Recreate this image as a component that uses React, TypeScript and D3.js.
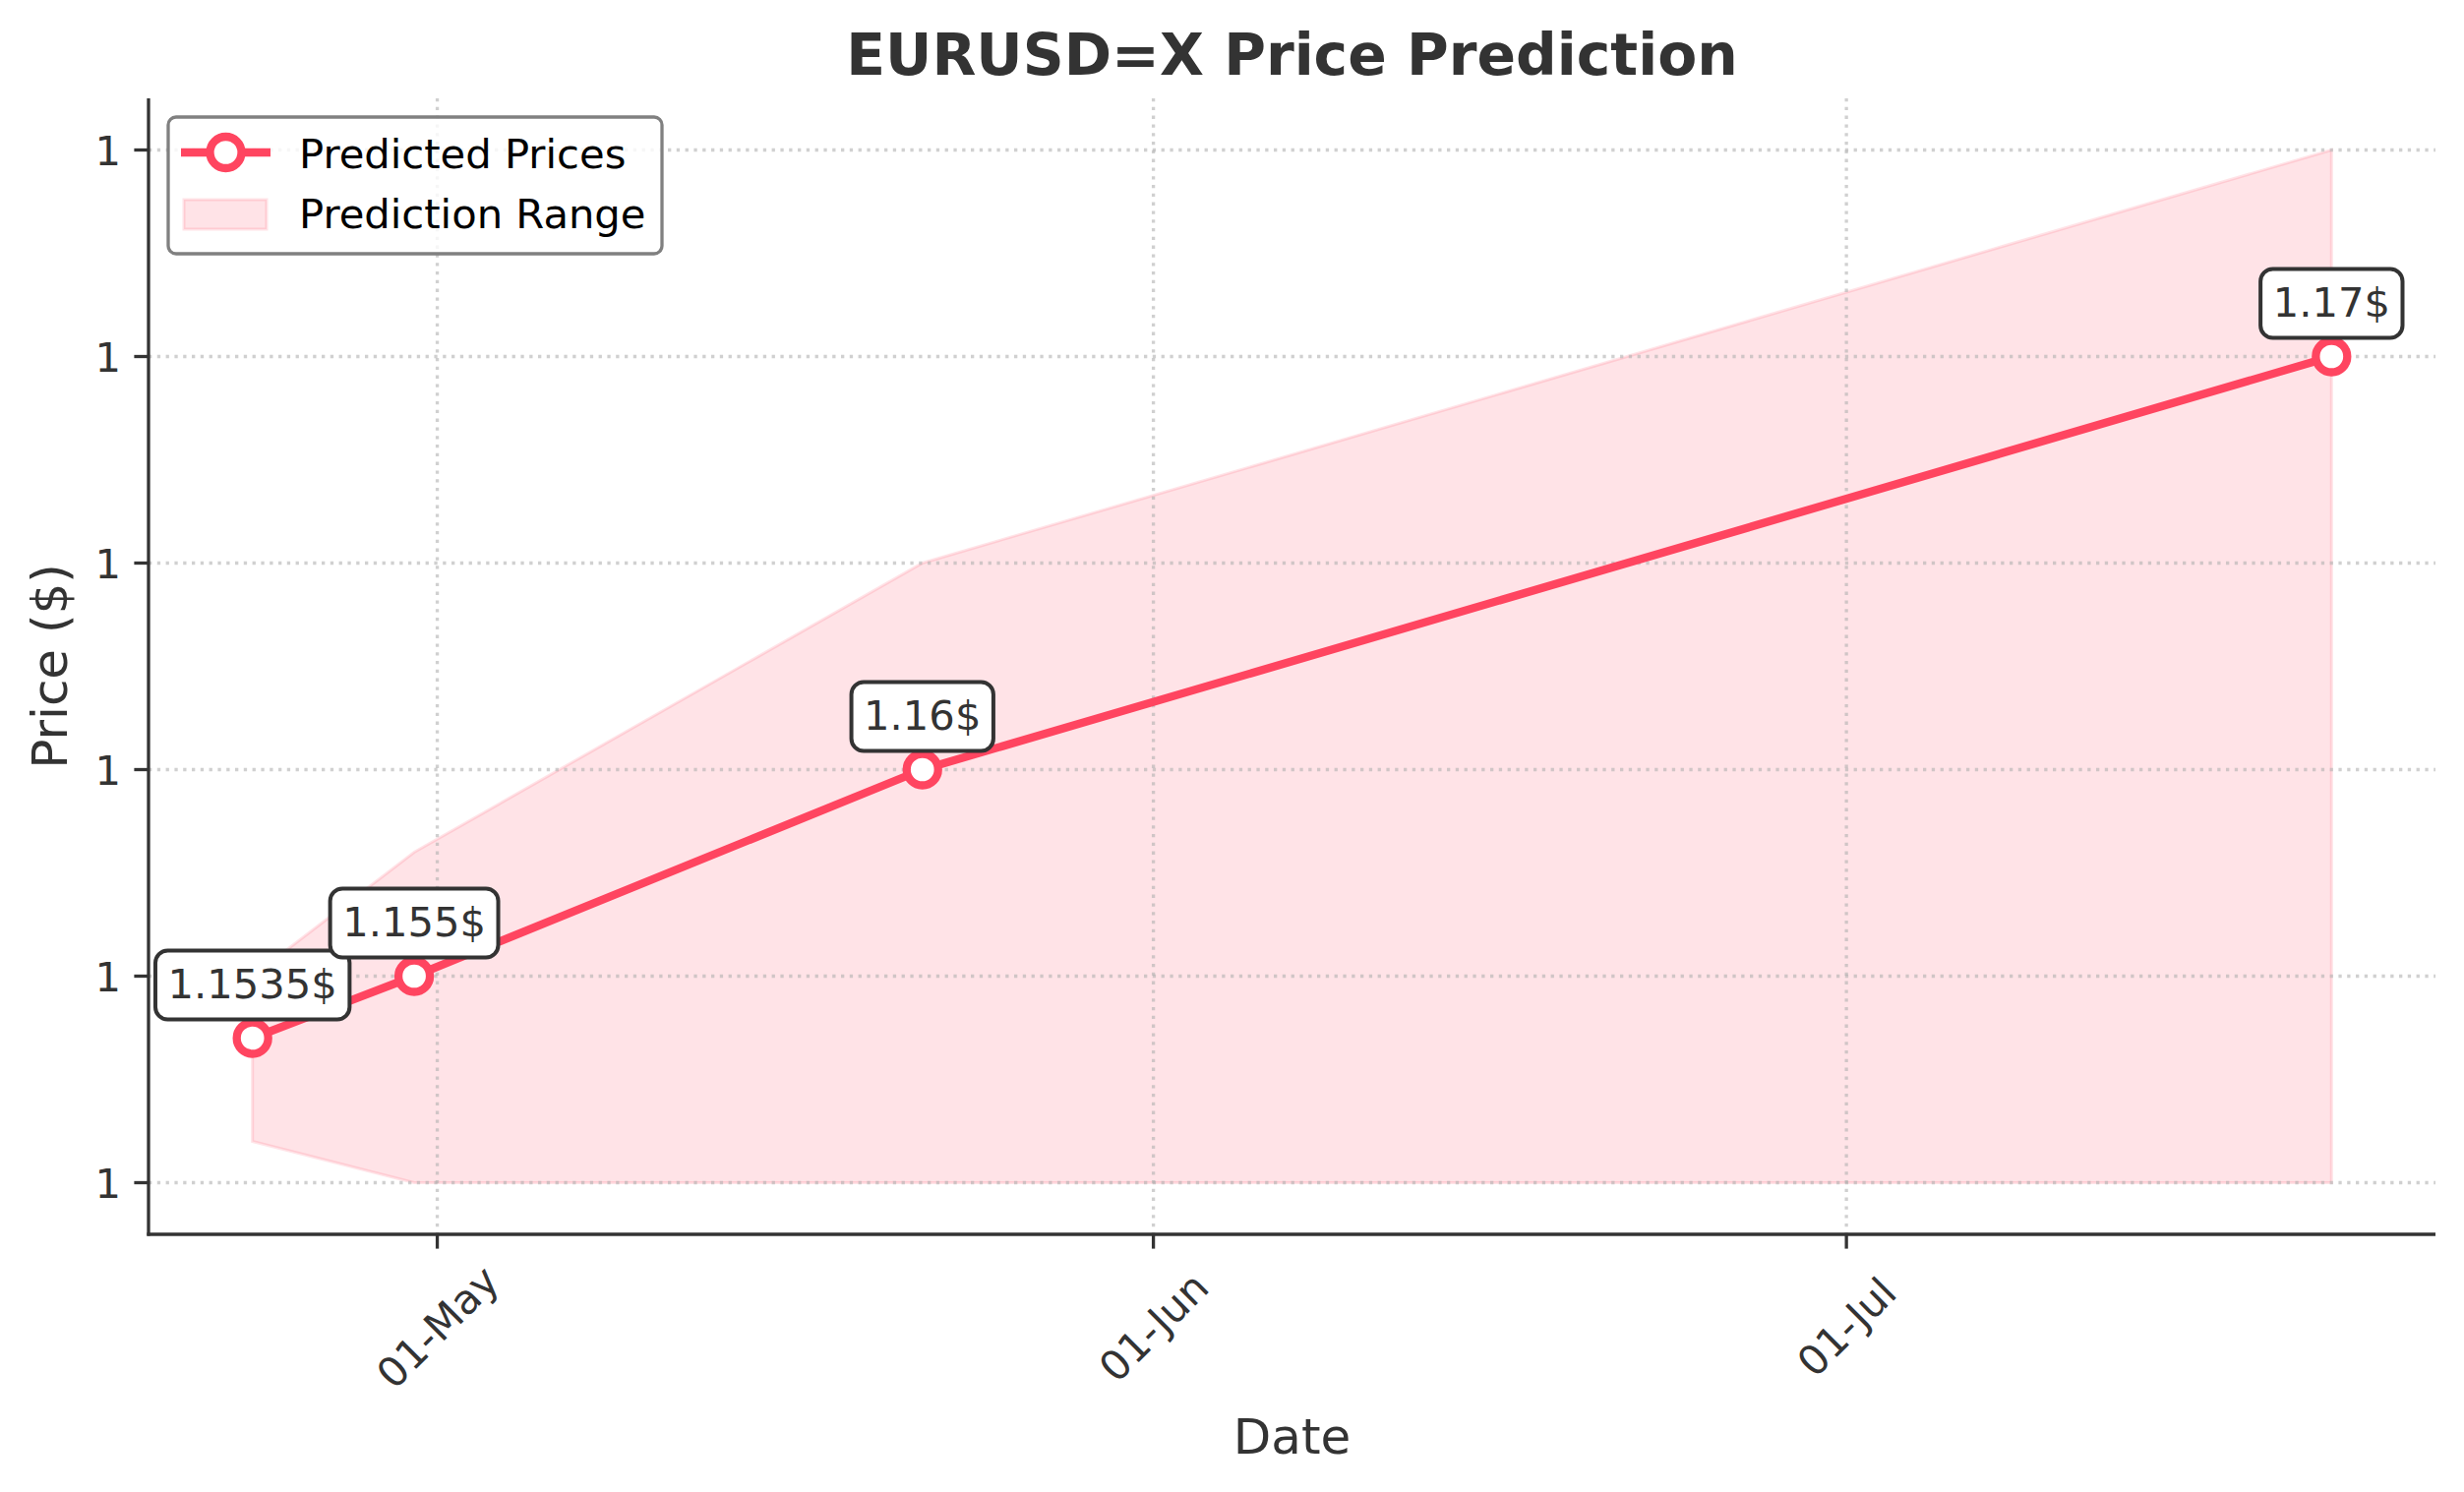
import * as d3 from "d3";
import { useEffect, useRef } from "react";

// forecast data
const dates = ["2025-04-23", "2025-04-30", "2025-05-22", "2025-07-22"];
const predicted = [1.1535, 1.155, 1.16, 1.17];
const upperBound = [1.155, 1.158, 1.165, 1.175];
const lowerBound = [1.151, 1.15, 1.15, 1.15];
const annotationLabels = ["1.1535$", "1.155$", "1.16$", "1.17$"];
const yTicks = [1.15, 1.155, 1.16, 1.165, 1.17, 1.175];
const xTicks = ["2025-05-01", "2025-06-01", "2025-07-01"];

const W = 2505;
const H = 1517;
const LINE = "#ff4560";
const TXT = "#333333";
const FONT = "'DejaVu Sans', sans-serif";
const FS = 41.7; // 10pt at 300dpi

const parse = (s: string) => {
    const [y, m, d] = s.split("-").map(Number);
    return new Date(y, m - 1, d);
};

const App: React.FC = () => {
    const svgRef = useRef<SVGSVGElement | null>(null);

    useEffect(() => {
        const svg = d3.select(svgRef.current);
        svg.selectAll("*").remove();

        const data = dates.map((d, i) => ({
            date: parse(d),
            value: predicted[i],
            hi: upperBound[i],
            lo: lowerBound[i],
            label: annotationLabels[i],
        }));

        const left = 151, right = 2476, top = 100, bottom = 1255;

        // 5% margins like matplotlib
        const t0 = data[0].date.getTime();
        const t1 = data[data.length - 1].date.getTime();
        const padT = (t1 - t0) * 0.05;
        const x = d3.scaleTime()
            .domain([new Date(t0 - padT), new Date(t1 + padT)])
            .range([left, right]);

        const y = d3.scaleLinear()
            .domain([1.14875, 1.17625])
            .range([bottom, top]);

        svg.append("rect").attr("width", W).attr("height", H).attr("fill", "white");

        // prediction range
        const area = d3.area<typeof data[0]>()
            .x(d => x(d.date))
            .y0(d => y(d.lo))
            .y1(d => y(d.hi));
        svg.append("path")
            .datum(data)
            .attr("d", area)
            .attr("fill", LINE)
            .attr("fill-opacity", 0.15)
            .attr("stroke", LINE)
            .attr("stroke-opacity", 0.15)
            .attr("stroke-width", 3);

        // grid
        const grid = svg.append("g")
            .attr("stroke", "#b0b0b0")
            .attr("stroke-opacity", 0.6)
            .attr("stroke-width", 3.3)
            .attr("stroke-dasharray", "3.3 5.5");
        grid.selectAll("line.gy")
            .data(yTicks)
            .join("line")
            .attr("x1", left).attr("x2", right)
            .attr("y1", d => y(d)).attr("y2", d => y(d));
        grid.selectAll("line.gx")
            .data(xTicks.map(parse))
            .join("line")
            .attr("x1", d => x(d)).attr("x2", d => x(d))
            .attr("y1", top).attr("y2", bottom);

        // predicted line
        const line = d3.line<typeof data[0]>()
            .x(d => x(d.date))
            .y(d => y(d.value));
        svg.append("path")
            .datum(data)
            .attr("d", line)
            .attr("fill", "none")
            .attr("stroke", LINE)
            .attr("stroke-width", 8.3)
            .attr("stroke-linejoin", "round");

        svg.selectAll("circle.pt")
            .data(data)
            .join("circle")
            .attr("cx", d => x(d.date))
            .attr("cy", d => y(d.value))
            .attr("r", 16)
            .attr("fill", "white")
            .attr("stroke", LINE)
            .attr("stroke-width", 8.3);

        // annotations
        data.forEach(d => {
            const cx = x(d.date);
            const base = y(d.value) - 41;
            const g = svg.append("g");
            const rect = g.append("rect");
            const t = g.append("text")
                .attr("x", cx)
                .attr("y", base)
                .attr("text-anchor", "middle")
                .attr("font-family", FONT)
                .attr("font-size", FS)
                .attr("fill", TXT)
                .text(d.label);
            const len = (t.node() as SVGTextElement).getComputedTextLength();
            const pad = 0.3 * FS;
            rect.attr("x", cx - len / 2 - pad)
                .attr("y", base - 48)
                .attr("width", len + 2 * pad)
                .attr("height", 70)
                .attr("rx", pad)
                .attr("fill", "white")
                .attr("stroke", TXT)
                .attr("stroke-width", 4);
        });

        // spines
        svg.append("line")
            .attr("x1", left).attr("x2", left)
            .attr("y1", top).attr("y2", bottom + 1.6)
            .attr("stroke", TXT).attr("stroke-width", 3.3);
        svg.append("line")
            .attr("x1", left - 1.6).attr("x2", right)
            .attr("y1", bottom).attr("y2", bottom)
            .attr("stroke", TXT).attr("stroke-width", 3.3);

        // y axis ticks
        const yAxis = svg.append("g");
        yTicks.forEach(v => {
            yAxis.append("line")
                .attr("x1", left - 14.6).attr("x2", left)
                .attr("y1", y(v)).attr("y2", y(v))
                .attr("stroke", TXT).attr("stroke-width", 3.3);
            yAxis.append("text")
                .attr("x", left - 28)
                .attr("y", y(v))
                .attr("dy", "0.36em")
                .attr("text-anchor", "end")
                .attr("font-family", FONT)
                .attr("font-size", FS)
                .attr("fill", TXT)
                .text(d3.format(".0f")(v));
        });

        // x axis ticks
        const fmt = d3.timeFormat("%d-%b");
        const xAxis = svg.append("g");
        xTicks.map(parse).forEach(dt => {
            const tx = x(dt);
            xAxis.append("line")
                .attr("x1", tx).attr("x2", tx)
                .attr("y1", bottom).attr("y2", bottom + 14.6)
                .attr("stroke", TXT).attr("stroke-width", 3.3);
            xAxis.append("text")
                .attr("transform", `translate(${tx},${1349}) rotate(-45)`)
                .attr("text-anchor", "middle")
                .attr("dy", "0.36em")
                .attr("font-family", FONT)
                .attr("font-size", FS)
                .attr("fill", TXT)
                .text(fmt(dt));
        });

        // titles
        svg.append("text")
            .attr("x", (left + right) / 2)
            .attr("y", 76)
            .attr("text-anchor", "middle")
            .attr("font-family", FONT)
            .attr("font-size", 58.3)
            .attr("font-weight", "bold")
            .attr("fill", TXT)
            .text("EURUSD=X Price Prediction");
        svg.append("text")
            .attr("x", (left + right) / 2)
            .attr("y", 1478)
            .attr("text-anchor", "middle")
            .attr("font-family", FONT)
            .attr("font-size", 50)
            .attr("fill", TXT)
            .text("Date");
        svg.append("text")
            .attr("transform", `translate(68,${(top + bottom) / 2}) rotate(-90)`)
            .attr("text-anchor", "middle")
            .attr("font-family", FONT)
            .attr("font-size", 50)
            .attr("fill", TXT)
            .text("Price ($)");

        // legend
        const lg = svg.append("g");
        lg.append("rect")
            .attr("x", 171).attr("y", 119)
            .attr("width", 502).attr("height", 139)
            .attr("rx", 8)
            .attr("fill", "white").attr("fill-opacity", 0.8)
            .attr("stroke", "#808080").attr("stroke-width", 3.3);
        lg.append("line")
            .attr("x1", 184).attr("x2", 275)
            .attr("y1", 155).attr("y2", 155)
            .attr("stroke", LINE).attr("stroke-width", 8.3);
        lg.append("circle")
            .attr("cx", 229.5).attr("cy", 155).attr("r", 16)
            .attr("fill", "white").attr("stroke", LINE).attr("stroke-width", 8.3);
        lg.append("rect")
            .attr("x", 187).attr("y", 203)
            .attr("width", 84).attr("height", 30)
            .attr("fill", LINE).attr("fill-opacity", 0.15)
            .attr("stroke", LINE).attr("stroke-opacity", 0.15).attr("stroke-width", 3);
        const legendItems = ["Predicted Prices", "Prediction Range"];
        lg.selectAll("text")
            .data(legendItems)
            .join("text")
            .attr("x", 304)
            .attr("y", (_, i) => 170.7 + i * 61.5)
            .attr("font-family", FONT)
            .attr("font-size", FS)
            .attr("fill", "black")
            .text(d => d);
    }, []);

    return (
        <div style={{ position: "absolute", left: 0, top: 0, width: W, height: H }}>
            <svg ref={svgRef} width={W} height={H} style={{ display: "block" }}></svg>
        </div>
    );
};

export default App;
